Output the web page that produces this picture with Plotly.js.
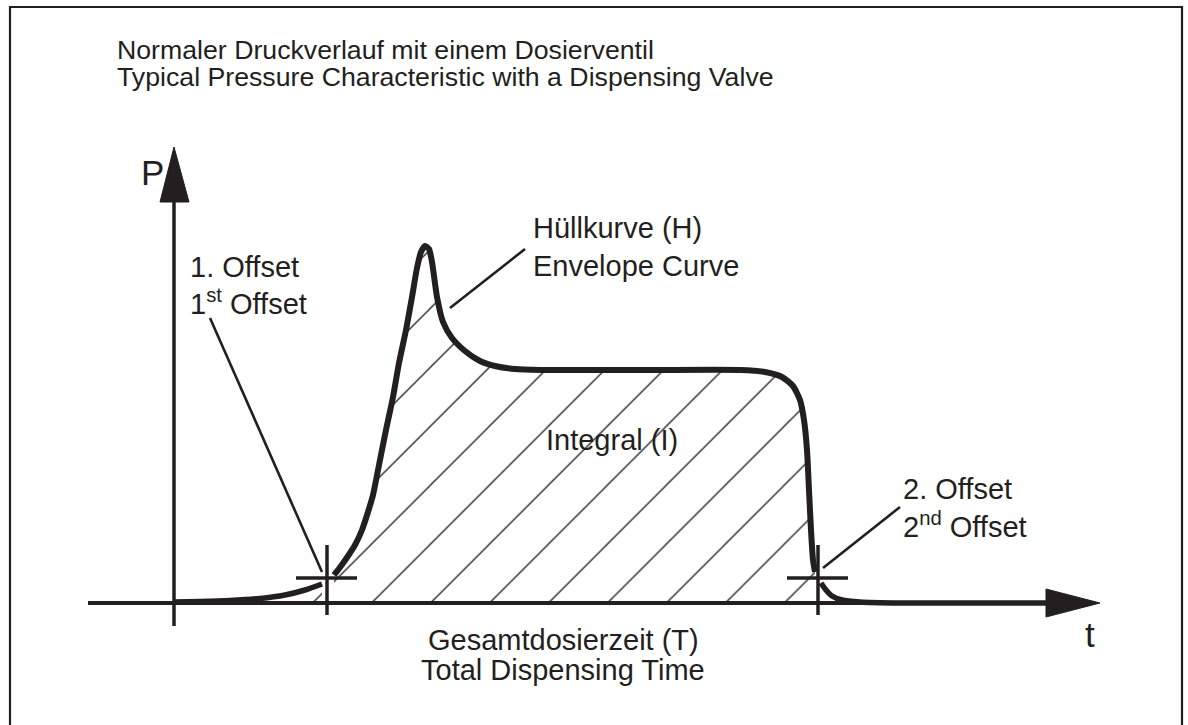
<!DOCTYPE html>
<html>
<head>
<meta charset="utf-8">
<script src="https://cdn.plot.ly/plotly-3.0.1.min.js"></script>
<style>
html,body{margin:0;padding:0;background:#ffffff;}
#chart{width:1188px;height:725px;}
</style>
</head>
<body>
<div id="chart"></div>
<script>
// ---- Data (t = time, P = pressure; arbitrary units) ----
// pre-dosing creep up to the 1st offset
const tCreep = [0, 26, 56, 86, 111, 131, 148];
const pCreep = [1, 1.5, 2.5, 4.5, 8, 13, 19];
// main pressure pulse (envelope curve) between the offsets
const tPulse = [160, 167, 174, 181, 188, 194, 199, 205, 212, 219, 225, 232, 238, 243, 247, 251, 255, 258, 263, 269, 278, 291, 306, 321, 341, 366, 476, 566, 591, 608, 619, 626, 630, 633, 635, 637, 639, 641];
const pPulse = [28, 37, 47, 58, 73, 91, 108, 138, 173, 206, 240, 273, 306, 335, 351, 357, 354, 341, 306, 281, 265, 252, 242, 237, 234, 233, 233, 233, 231, 226, 217, 203, 183, 153, 113, 73, 43, 31];
// decay after the 2nd offset
const tDecay = [647, 652, 658, 668, 686, 726, 786, 872];
const pDecay = [20, 13, 7, 3, 1, 0, 0, 0];
// offset points
const offsetT = [153, 644];
const offsetP = [25, 25];
// texts
const titleLines = ["Normaler Druckverlauf mit einem Dosierventil", "Typical Pressure Characteristic with a Dispensing Valve"];
const offset1Lines = ["1. Offset", "1<sup>st</sup> Offset"];
const envelopeLines = ["Hüllkurve (H)", "Envelope Curve"];
const integralLabel = "Integral (I)";
const offset2Lines = ["2. Offset", "2<sup>nd</sup> Offset"];
const timeLines = ["Gesamtdosierzeit (T)", "Total Dispensing Time"];
const axisLabels = ["P", "t"];

// ---- layout helpers ----
const INK = '#231f20';
const FONT = 'Liberation Sans, Arial, Helvetica, sans-serif';
const W = 1188, H = 725;
const ML = 16, MT = 15;           // margins (also set hatch phase)
const OX = 174, OY = 603;         // pixel position of origin
const X = px => px - OX;
const Y = py => OY - py;
const PX = px => (px - ML) / (W - ML);
const PY = py => (H - py) / (H - MT);

const hatch = {shape: '/', size: 41.7, solidity: 0.032, fgcolor: INK, bgcolor: 'rgba(0,0,0,0)', fillmode: 'replace'};

const traces = [
  {x: tCreep, y: pCreep, mode: 'lines', line: {color: INK, width: 5.5, shape: 'spline', smoothing: 0.8},
   fill: 'tozeroy', fillcolor: 'rgba(0,0,0,0)', fillpattern: hatch, hoverinfo: 'skip'},
  {x: tPulse, y: pPulse, mode: 'lines', line: {color: INK, width: 6, shape: 'spline', smoothing: 0.6},
   fill: 'tozeroy', fillcolor: 'rgba(0,0,0,0)', fillpattern: hatch, hoverinfo: 'skip'},
  {x: tDecay, y: pDecay, mode: 'lines', line: {color: INK, width: 5.5, shape: 'spline', smoothing: 0.8}, hoverinfo: 'skip'}
];

const shapes = [];
// frame
shapes.push({type: 'rect', xref: 'paper', yref: 'paper', x0: PX(10), x1: PX(1182), y0: PY(732), y1: PY(7),
  line: {color: INK, width: 2.2}, fillcolor: 'rgba(0,0,0,0)'});
// time axis
shapes.push({type: 'line', x0: X(88), x1: X(1050), y0: 0, y1: 0, line: {color: INK, width: 4}});
shapes.push({type: 'path', path: `M${X(1046)},${Y(589)} L${X(1100)},${Y(603)} L${X(1046)},${Y(617)} Z`,
  fillcolor: INK, line: {color: INK, width: 1}});
// pressure axis
shapes.push({type: 'line', x0: 0, x1: 0, y0: Y(626), y1: Y(200), line: {color: INK, width: 3.5}});
shapes.push({type: 'path', path: `M${X(160)},${Y(202)} L${X(174)},${Y(147)} L${X(189)},${Y(202)} Z`,
  fillcolor: INK, line: {color: INK, width: 1}});
// offset cross marks
offsetT.forEach((t, i) => {
  const p = offsetP[i];
  shapes.push({type: 'line', x0: t, x1: t, y0: p - 37, y1: p + 33, line: {color: INK, width: 3.5}});
  shapes.push({type: 'line', x0: t - 31, x1: t + 30, y0: p, y1: p, line: {color: INK, width: 3.5}});
});
// leader lines
const leaders = [
  [[210, 318], [322, 572]],
  [[450, 308], [525, 249]],
  [[823, 568], [900, 507]]
];
leaders.forEach(l => shapes.push({type: 'line', x0: X(l[0][0]), y0: Y(l[0][1]), x1: X(l[1][0]), y1: Y(l[1][1]),
  line: {color: INK, width: 2.6}}));

// text annotations
const annotations = [];
function label(text, px, base, size, anchor) {
  annotations.push({text: text, x: X(px), y: Y(base - 0.35 * size), xref: 'x', yref: 'y',
    xanchor: anchor || 'left', yanchor: 'middle', showarrow: false, borderpad: 0,
    font: {family: FONT, size: size, color: INK}});
}
label(titleLines[0], 116, 59, 26.7);
label(titleLines[1], 116, 86, 26.7);
label(axisLabels[0], 152, 185, 35, 'center');
label(axisLabels[1], 1090, 647, 35, 'center');
label(offset1Lines[0], 189, 277, 29);
label(offset1Lines[1], 189, 312, 29);
label(envelopeLines[0], 532, 238, 29);
label(envelopeLines[1], 532, 276, 29);
label(integralLabel, 612, 450, 29, 'center');
label(offset2Lines[0], 902, 499, 29);
label(offset2Lines[1], 902, 535, 29);
label(timeLines[0], 563, 650, 29, 'center');
label(timeLines[1], 563, 680, 29, 'center');

const layout = {
  width: W, height: H,
  margin: {l: ML, r: 0, t: MT, b: 0, pad: 0},
  paper_bgcolor: '#ffffff', plot_bgcolor: '#ffffff',
  showlegend: false,
  xaxis: {range: [ML - OX, W - OX], visible: false, showgrid: false, zeroline: false, fixedrange: true},
  yaxis: {range: [OY - H, OY - MT], visible: false, showgrid: false, zeroline: false, fixedrange: true},
  shapes: shapes,
  annotations: annotations
};

Plotly.newPlot('chart', traces, layout, {staticPlot: true, displayModeBar: false});
</script>
</body>
</html>
